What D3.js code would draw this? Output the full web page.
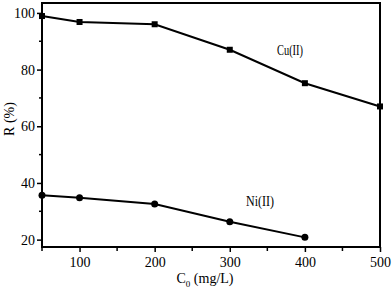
<!DOCTYPE html>
<html>
<head>
<meta charset="utf-8">
<script src="https://cdn.jsdelivr.net/npm/d3@7"></script>
<style>
  html, body { margin: 0; padding: 0; background: #fff; }
  svg { display: block; }
  text { font-family: "Liberation Serif", "DejaVu Serif", serif; fill: #000; }
</style>
</head>
<body>
<div id="chart"></div>
<script>
// concentrations (mg/L)
const conc = [50, 100, 200, 300, 400, 500];
const cuValues = [98.9, 96.8, 96.0, 87.0, 75.2, 67.0];
const niConc = [50, 100, 200, 300, 400];
const niValues = [35.7, 34.8, 32.6, 26.3, 20.8];
const xTicks = [100, 200, 300, 400, 500];
const yTicks = [20, 40, 60, 80, 100];

const width = 392;
const height = 292;
const margin = { top: 3, right: 12, bottom: 45, left: 42 };

const svg = d3.select("#chart")
  .append("svg")
  .attr("width", width)
  .attr("height", height);

const x = d3.scaleLinear()
  .domain([50, 500])
  .range([margin.left, width - margin.right]);

const y = d3.scaleLinear()
  .domain([17.4, 103.5])
  .range([height - margin.bottom, margin.top]);

// frame
svg.append("rect")
  .attr("x", margin.left)
  .attr("y", margin.top)
  .attr("width", width - margin.left - margin.right)
  .attr("height", height - margin.top - margin.bottom)
  .attr("fill", "none")
  .attr("stroke", "#000")
  .attr("stroke-width", 2);

// minor ticks
const xMinor = d3.range(50, 501, 100);
const yMinor = d3.range(30, 101, 20);

svg.append("g")
  .selectAll("line")
  .data(xMinor)
  .join("line")
  .attr("x1", d => x(d)).attr("x2", d => x(d))
  .attr("y1", y.range()[0]).attr("y2", y.range()[0] + 4)
  .attr("stroke", "#000").attr("stroke-width", 1.5);

svg.append("g")
  .selectAll("line")
  .data(yMinor)
  .join("line")
  .attr("x1", margin.left - 3).attr("x2", margin.left)
  .attr("y1", d => y(d)).attr("y2", d => y(d))
  .attr("stroke", "#000").attr("stroke-width", 1.5);

// axes
const xAxis = svg.append("g")
  .attr("transform", `translate(0,${y.range()[0]})`)
  .call(d3.axisBottom(x).tickValues(xTicks).tickSize(5).tickPadding(5));

const yAxis = svg.append("g")
  .attr("transform", `translate(${margin.left},0)`)
  .call(d3.axisLeft(y).tickValues(yTicks).tickSize(5).tickPadding(2));

[xAxis, yAxis].forEach(a => {
  a.select(".domain").remove();
  a.selectAll(".tick line").attr("stroke", "#000").attr("stroke-width", 1.5);
  a.selectAll(".tick text")
    .attr("fill", "#000")
    .style("font-family", "'Liberation Serif', serif")
    .style("font-size", "14px");
});

// lines
const line = d3.line().x(d => x(d[0])).y(d => y(d[1]));
const cuData = conc.map((c, i) => [c, cuValues[i]]);
const niData = niConc.map((c, i) => [c, niValues[i]]);

svg.append("path")
  .datum(cuData)
  .attr("d", line)
  .attr("fill", "none")
  .attr("stroke", "#000")
  .attr("stroke-width", 2);

svg.append("path")
  .datum(niData)
  .attr("d", line)
  .attr("fill", "none")
  .attr("stroke", "#000")
  .attr("stroke-width", 2);

svg.append("g")
  .selectAll("rect")
  .data(cuData)
  .join("rect")
  .attr("x", d => x(d[0]) - 3)
  .attr("y", d => y(d[1]) - 3)
  .attr("width", 6)
  .attr("height", 6)
  .attr("fill", "#000");

svg.append("g")
  .selectAll("circle")
  .data(niData)
  .join("circle")
  .attr("cx", d => x(d[0]))
  .attr("cy", d => y(d[1]))
  .attr("r", 3.5)
  .attr("fill", "#000");

// series labels
svg.append("text")
  .attr("x", 290)
  .attr("y", 55)
  .attr("text-anchor", "middle")
  .attr("textLength", 26)
  .attr("lengthAdjust", "spacingAndGlyphs")
  .style("font-size", "14px")
  .text("Cu(II)");

svg.append("text")
  .attr("x", 260)
  .attr("y", 206)
  .attr("text-anchor", "middle")
  .attr("textLength", 28)
  .attr("lengthAdjust", "spacingAndGlyphs")
  .style("font-size", "14px")
  .text("Ni(II)");

// axis titles
const xTitle = svg.append("text")
  .attr("x", 205)
  .attr("y", 283)
  .attr("text-anchor", "middle")
  .style("font-size", "14px");
xTitle.append("tspan").text("C");
xTitle.append("tspan").attr("dy", 4).style("font-size", "9px").text("0");
xTitle.append("tspan").attr("dy", -4).text(" (mg/L)");

svg.append("text")
  .attr("transform", `translate(14,119) rotate(-90)`)
  .attr("text-anchor", "middle")
  .style("font-size", "14px")
  .text("R (%)");
</script>
</body>
</html>
